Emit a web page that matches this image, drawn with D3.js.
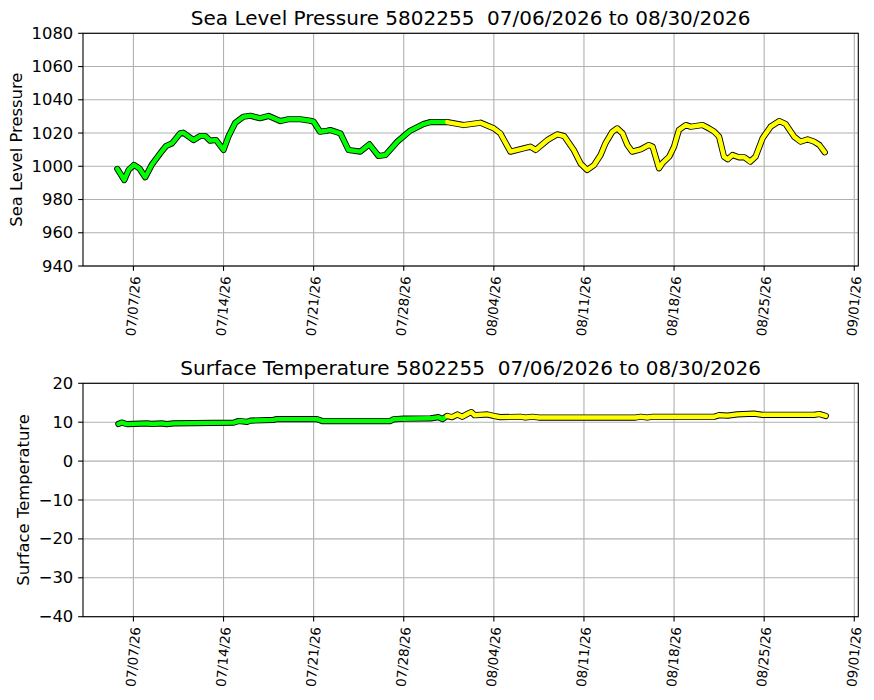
<!DOCTYPE html>
<html>
<head>
<meta charset="utf-8">
<script src="https://cdn.jsdelivr.net/npm/d3@7"></script>
<style>
  html, body { margin: 0; padding: 0; background: #fff; }
  svg { display: block; font-family: "DejaVu Sans", sans-serif; }
  text.title { white-space: pre; }
</style>
</head>
<body>
<svg id="chart" width="874" height="700"></svg>
<script>
// ---------------- DATA ----------------
const stationId = "5802255";
const periodText = "07/06/2026 to 08/30/2026";
const splitTime = "2026-07-31T09:00";

const slpTimes = ["2026-07-05T18:00","2026-07-06T07:00","2026-07-06T15:00","2026-07-07T01:00","2026-07-07T11:00","2026-07-07T22:00","2026-07-08T10:00","2026-07-09T02:00","2026-07-09T13:00","2026-07-10T00:00","2026-07-10T15:00","2026-07-10T21:00","2026-07-11T16:00","2026-07-12T04:00","2026-07-12T14:00","2026-07-12T23:00","2026-07-13T10:00","2026-07-14T00:00","2026-07-14T09:00","2026-07-14T22:00","2026-07-15T13:00","2026-07-16T02:00","2026-07-16T20:00","2026-07-17T12:00","2026-07-18T10:00","2026-07-19T01:00","2026-07-19T23:00","2026-07-20T18:00","2026-07-21T00:00","2026-07-21T12:00","2026-07-22T01:00","2026-07-22T07:00","2026-07-23T02:00","2026-07-23T08:00","2026-07-23T17:00","2026-07-24T15:00","2026-07-25T08:00","2026-07-26T01:00","2026-07-26T14:00","2026-07-27T12:00","2026-07-28T12:00","2026-07-29T13:00","2026-07-30T02:00","2026-07-31T09:00","2026-08-01T16:00","2026-08-02T23:00","2026-08-04T00:00","2026-08-04T12:00","2026-08-05T07:00","2026-08-06T08:00","2026-08-06T20:00","2026-08-07T06:00","2026-08-08T04:00","2026-08-08T22:00","2026-08-09T11:00","2026-08-10T05:00","2026-08-10T18:00","2026-08-11T06:00","2026-08-11T19:00","2026-08-12T07:00","2026-08-12T16:00","2026-08-13T05:00","2026-08-13T14:00","2026-08-14T00:00","2026-08-14T09:00","2026-08-14T18:00","2026-08-15T10:00","2026-08-16T01:00","2026-08-16T08:00","2026-08-16T20:00","2026-08-17T02:00","2026-08-17T15:00","2026-08-18T00:00","2026-08-18T09:00","2026-08-18T22:00","2026-08-19T07:00","2026-08-20T05:00","2026-08-20T17:00","2026-08-21T03:00","2026-08-21T12:00","2026-08-21T21:00","2026-08-22T04:00","2026-08-22T13:00","2026-08-23T01:00","2026-08-23T11:00","2026-08-23T22:00","2026-08-24T08:00","2026-08-24T21:00","2026-08-25T12:00","2026-08-26T04:00","2026-08-26T16:00","2026-08-27T08:00","2026-08-27T20:00","2026-08-28T09:00","2026-08-28T21:00","2026-08-29T07:00","2026-08-29T17:00"];
const slpValues = [998.4,991.7,997.8,1000.8,998.8,993.4,1000.8,1007.8,1012.2,1013.8,1019.8,1020.2,1015.8,1018.2,1018.2,1015.4,1015.8,1009.8,1017.8,1026.2,1029.8,1030.4,1028.9,1030.3,1027.2,1028.3,1028.3,1027.4,1026.8,1020.8,1021.4,1021.8,1019.8,1015.8,1009.8,1008.8,1013.2,1006.2,1006.8,1014.8,1021.4,1025.4,1026.6,1026.6,1024.8,1026.2,1022.8,1019.8,1008.8,1010.8,1011.8,1009.8,1015.8,1019.2,1018.2,1009.8,1001.5,997.8,1000.8,1006.8,1013.8,1020.8,1022.8,1019.8,1012.8,1008.8,1010.2,1012.8,1011.8,998.8,1001.8,1005.8,1011.8,1021.8,1024.8,1023.8,1024.8,1022.8,1020.8,1017.8,1005.8,1004.2,1006.8,1005.4,1005.4,1002.8,1005.8,1016.8,1023.8,1027.2,1025.4,1017.8,1014.8,1016.2,1014.8,1012.8,1008.4];

const tempTimes = ["2026-07-05T20:00","2026-07-06T02:00","2026-07-06T12:00","2026-07-08T01:00","2026-07-08T10:00","2026-07-09T05:00","2026-07-09T14:00","2026-07-10T03:00","2026-07-14T19:00","2026-07-15T04:00","2026-07-15T20:00","2026-07-16T02:00","2026-07-17T21:00","2026-07-18T04:00","2026-07-21T06:00","2026-07-21T16:00","2026-07-26T23:00","2026-07-27T05:00","2026-07-28T00:00","2026-07-30T02:00","2026-07-30T17:00","2026-07-31T00:00","2026-07-31T09:00","2026-07-31T18:00","2026-08-01T04:00","2026-08-01T13:00","2026-08-02T01:00","2026-08-02T06:00","2026-08-02T12:00","2026-08-03T00:00","2026-08-03T12:00","2026-08-04T00:00","2026-08-04T12:00","2026-08-06T02:00","2026-08-06T11:00","2026-08-07T00:00","2026-08-07T12:00","2026-08-15T00:00","2026-08-15T10:00","2026-08-15T22:00","2026-08-16T08:00","2026-08-21T03:00","2026-08-21T12:00","2026-08-22T04:00","2026-08-22T22:00","2026-08-24T05:00","2026-08-24T21:00","2026-08-28T21:00","2026-08-29T07:00","2026-08-29T19:00"];
const tempValues = [9.55,9.9,9.5,9.7,9.55,9.7,9.5,9.7,9.9,10.3,10.1,10.4,10.6,10.8,10.8,10.3,10.3,10.75,10.9,11.0,11.3,10.8,11.6,11.3,12.0,11.4,12.3,12.6,11.8,11.9,12.0,11.6,11.3,11.4,11.2,11.4,11.2,11.2,11.4,11.2,11.4,11.4,11.8,11.7,12.0,12.2,11.9,11.9,12.1,11.6];

const xTickDates = ["2026-07-07","2026-07-14","2026-07-21","2026-07-28","2026-08-04","2026-08-11","2026-08-18","2026-08-25","2026-09-01"];
const xTickLabels = ["07/07/26","07/14/26","07/21/26","07/28/26","08/04/26","08/11/26","08/18/26","08/25/26","09/01/26"];
const xLimits = ["2026-07-03T02:00","2026-09-01T07:30"];

const slpTicks = [940,960,980,1000,1020,1040,1060,1080];
const tempTicks = [-40,-30,-20,-10,0,10,20];

const panels = [
  { title: "Sea Level Pressure " + stationId + "  " + periodText, ylabel: "Sea Level Pressure",
    times: slpTimes, values: slpValues, yDomain: [940,1080], yTicks: slpTicks, top: 33.3, bottom: 266 },
  { title: "Surface Temperature " + stationId + "  " + periodText, ylabel: "Surface Temperature",
    times: tempTimes, values: tempValues, yDomain: [-40,20], yTicks: tempTicks, top: 383.3, bottom: 616.7 }
];

// ---------------- DRAW ----------------
const parseT = s => new Date(s + (s.length <= 10 ? "T00:00:00Z" : ":00Z"));
const svg = d3.select("#chart");
const left = 83, right = 858.3;
const tickLen = 4.86, tickPad = 4.86, labelPad = 5.56;
const gridColor = "#b0b0b0";
const split = parseT(splitTime);

const x = d3.scaleUtc().domain(xLimits.map(parseT)).range([left, right]);

panels.forEach(p => {
  const y = d3.scaleLinear().domain(p.yDomain).range([p.bottom, p.top]);
  const g = svg.append("g");

  // grid
  xTickDates.forEach(d => {
    g.append("line").attr("x1", x(parseT(d))).attr("x2", x(parseT(d)))
      .attr("y1", p.top).attr("y2", p.bottom)
      .attr("stroke", gridColor).attr("stroke-width", 1.1);
  });
  p.yTicks.forEach(v => {
    g.append("line").attr("x1", left).attr("x2", right)
      .attr("y1", y(v)).attr("y2", y(v))
      .attr("stroke", gridColor).attr("stroke-width", 1.1);
  });

  // data
  const data = p.times.map((t, i) => ({ t: parseT(t), v: p.values[i] }));
  const line = d3.line().x(d => x(d.t)).y(d => y(d.v));
  const early = data.filter(d => d.t <= split);
  const late = data.filter(d => d.t >= split);
  g.append("path").datum(data).attr("d", line)
    .attr("fill", "none").attr("stroke", "#000").attr("stroke-width", 6.2)
    .attr("stroke-linejoin", "round").attr("stroke-linecap", "round");
  g.append("path").datum(early).attr("d", line)
    .attr("fill", "none").attr("stroke", "#00ff00").attr("stroke-width", 4.4)
    .attr("stroke-linejoin", "round").attr("stroke-linecap", "round");
  g.append("path").datum(late).attr("d", line)
    .attr("fill", "none").attr("stroke", "#ffff00").attr("stroke-width", 4.4)
    .attr("stroke-linejoin", "round").attr("stroke-linecap", "round");

  // spines
  g.append("rect").attr("x", left).attr("y", p.top)
    .attr("width", right - left).attr("height", p.bottom - p.top)
    .attr("fill", "none").attr("stroke", "#000").attr("stroke-width", 1.1);

  // y axis ticks
  const fmt = d3.format("");
  let maxW = 0;
  p.yTicks.forEach(v => {
    g.append("line").attr("x1", left - tickLen).attr("x2", left)
      .attr("y1", y(v)).attr("y2", y(v)).attr("stroke", "#000").attr("stroke-width", 1.1);
    const t = g.append("text").attr("x", left - tickLen - tickPad).attr("y", y(v))
      .attr("text-anchor", "end").attr("dominant-baseline", "central")
      .attr("font-size", 16.4).attr("fill", "#000").text(fmt(v));
    maxW = Math.max(maxW, t.node().getComputedTextLength());
  });

  // y label
  const ylx = left - tickLen - tickPad - maxW - labelPad - 16.4 * 0.24;
  g.append("text")
    .attr("transform", `translate(${ylx},${(p.top + p.bottom) / 2}) rotate(-90)`)
    .attr("text-anchor", "middle").attr("font-size", 16.4).attr("fill", "#000")
    .text(p.ylabel);

  // x axis ticks
  const ang = 85;
  const fs = 13.4;
  xTickDates.forEach((d, i) => {
    const tx = x(parseT(d));
    g.append("line").attr("x1", tx).attr("x2", tx)
      .attr("y1", p.bottom).attr("y2", p.bottom + tickLen).attr("stroke", "#000").attr("stroke-width", 1.1);
    const t = g.append("text").attr("font-size", fs).attr("fill", "#000")
      .attr("text-anchor", "middle").attr("dominant-baseline", "central")
      .text(xTickLabels[i]);
    const L = t.node().getComputedTextLength();
    const h = fs * 1.0;
    const rad = ang * Math.PI / 180;
    const halfH = (L / 2) * Math.sin(rad) + (h / 2) * Math.cos(rad);
    t.attr("transform", `translate(${tx},${p.bottom + tickLen + tickPad + halfH}) rotate(${-ang})`);
  });

  // title
  g.append("text").attr("class", "title").attr("x", (left + right) / 2).attr("y", p.top - 8.3)
    .attr("text-anchor", "middle").attr("font-size", 20).attr("fill", "#000")
    .attr("xml:space", "preserve")
    .text(p.title);
});
</script>
</body>
</html>
